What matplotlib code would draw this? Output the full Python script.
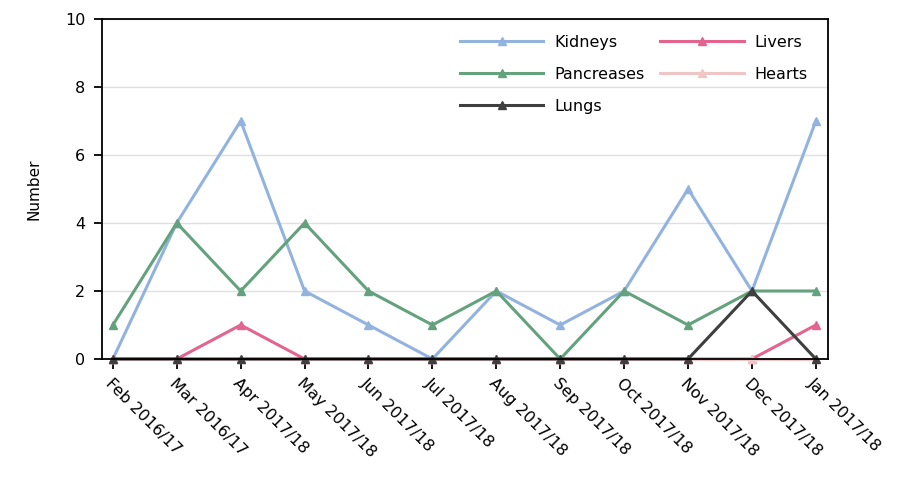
import matplotlib
matplotlib.use('Agg')
import matplotlib.pyplot as plt

months = ['Feb 2016/17', 'Mar 2016/17', 'Apr 2017/18', 'May 2017/18', 'Jun 2017/18', 'Jul 2017/18',
          'Aug 2017/18', 'Sep 2017/18', 'Oct 2017/18', 'Nov 2017/18', 'Dec 2017/18', 'Jan 2017/18']
kidneys = [0, 4, 7, 2, 1, 0, 2, 1, 2, 5, 2, 7]
pancreases = [1, 4, 2, 4, 2, 1, 2, 0, 2, 1, 2, 2]
livers = [0, 0, 1, 0, 0, 0, 0, 0, 0, 0, 0, 1]
hearts = [0, 0, 0, 0, 0, 0, 0, 0, 0, 0, 0, 0]
lungs = [0, 0, 0, 0, 0, 0, 0, 0, 0, 0, 2, 0]

series = [
    ('Kidneys', kidneys, '#92b3e0'),
    ('Pancreases', pancreases, '#63a27c'),
    ('Livers', livers, '#e2648f'),
    ('Hearts', hearts, '#efc6c6'),
    ('Lungs', lungs, '#3f3f3f'),
]

fs = 11.5
fig = plt.figure(figsize=(9.02, 4.8), dpi=100, facecolor='w')
ax = fig.add_axes([102/902, 1-359/480, (828-102)/902, (359-19)/480])

x = list(range(len(months)))
handles = {}
for name, vals, color in series:
    line, = ax.plot(x, vals, '-^', color=color, lw=2.2, ms=6, label=name, clip_on=False)
    handles[name] = line

ax.set_xlim(-0.17, 11.19)
ax.set_ylim(0, 10)
ax.set_yticks([0, 2, 4, 6, 8, 10])
ax.set_xticks(x)
ax.set_xticklabels(months, rotation=-45, ha='left', va='top', rotation_mode='anchor')
ax.tick_params(axis='both', direction='out', width=1.3, labelsize=fs, color='k')
ax.tick_params(axis='y', length=6, pad=6)
ax.tick_params(axis='x', length=7, pad=5)
ax.set_ylabel('Number', fontsize=11, labelpad=17)
ax.yaxis.grid(True, color='#e0e0e0', lw=1)
ax.set_axisbelow(True)
for spine in ax.spines.values():
    spine.set_linewidth(1.3)

order = ['Kidneys', 'Pancreases', 'Lungs', 'Livers', 'Hearts']
ax.legend([handles[n] for n in order], order, ncol=2, frameon=False, fontsize=fs,
          loc='upper left', bbox_to_anchor=(452/902, 1-27/480), bbox_transform=fig.transFigure,
          borderpad=0, handlelength=5.2, columnspacing=1.0, labelspacing=1.05, handletextpad=0.7)

fig.savefig('out.png', dpi=100)
